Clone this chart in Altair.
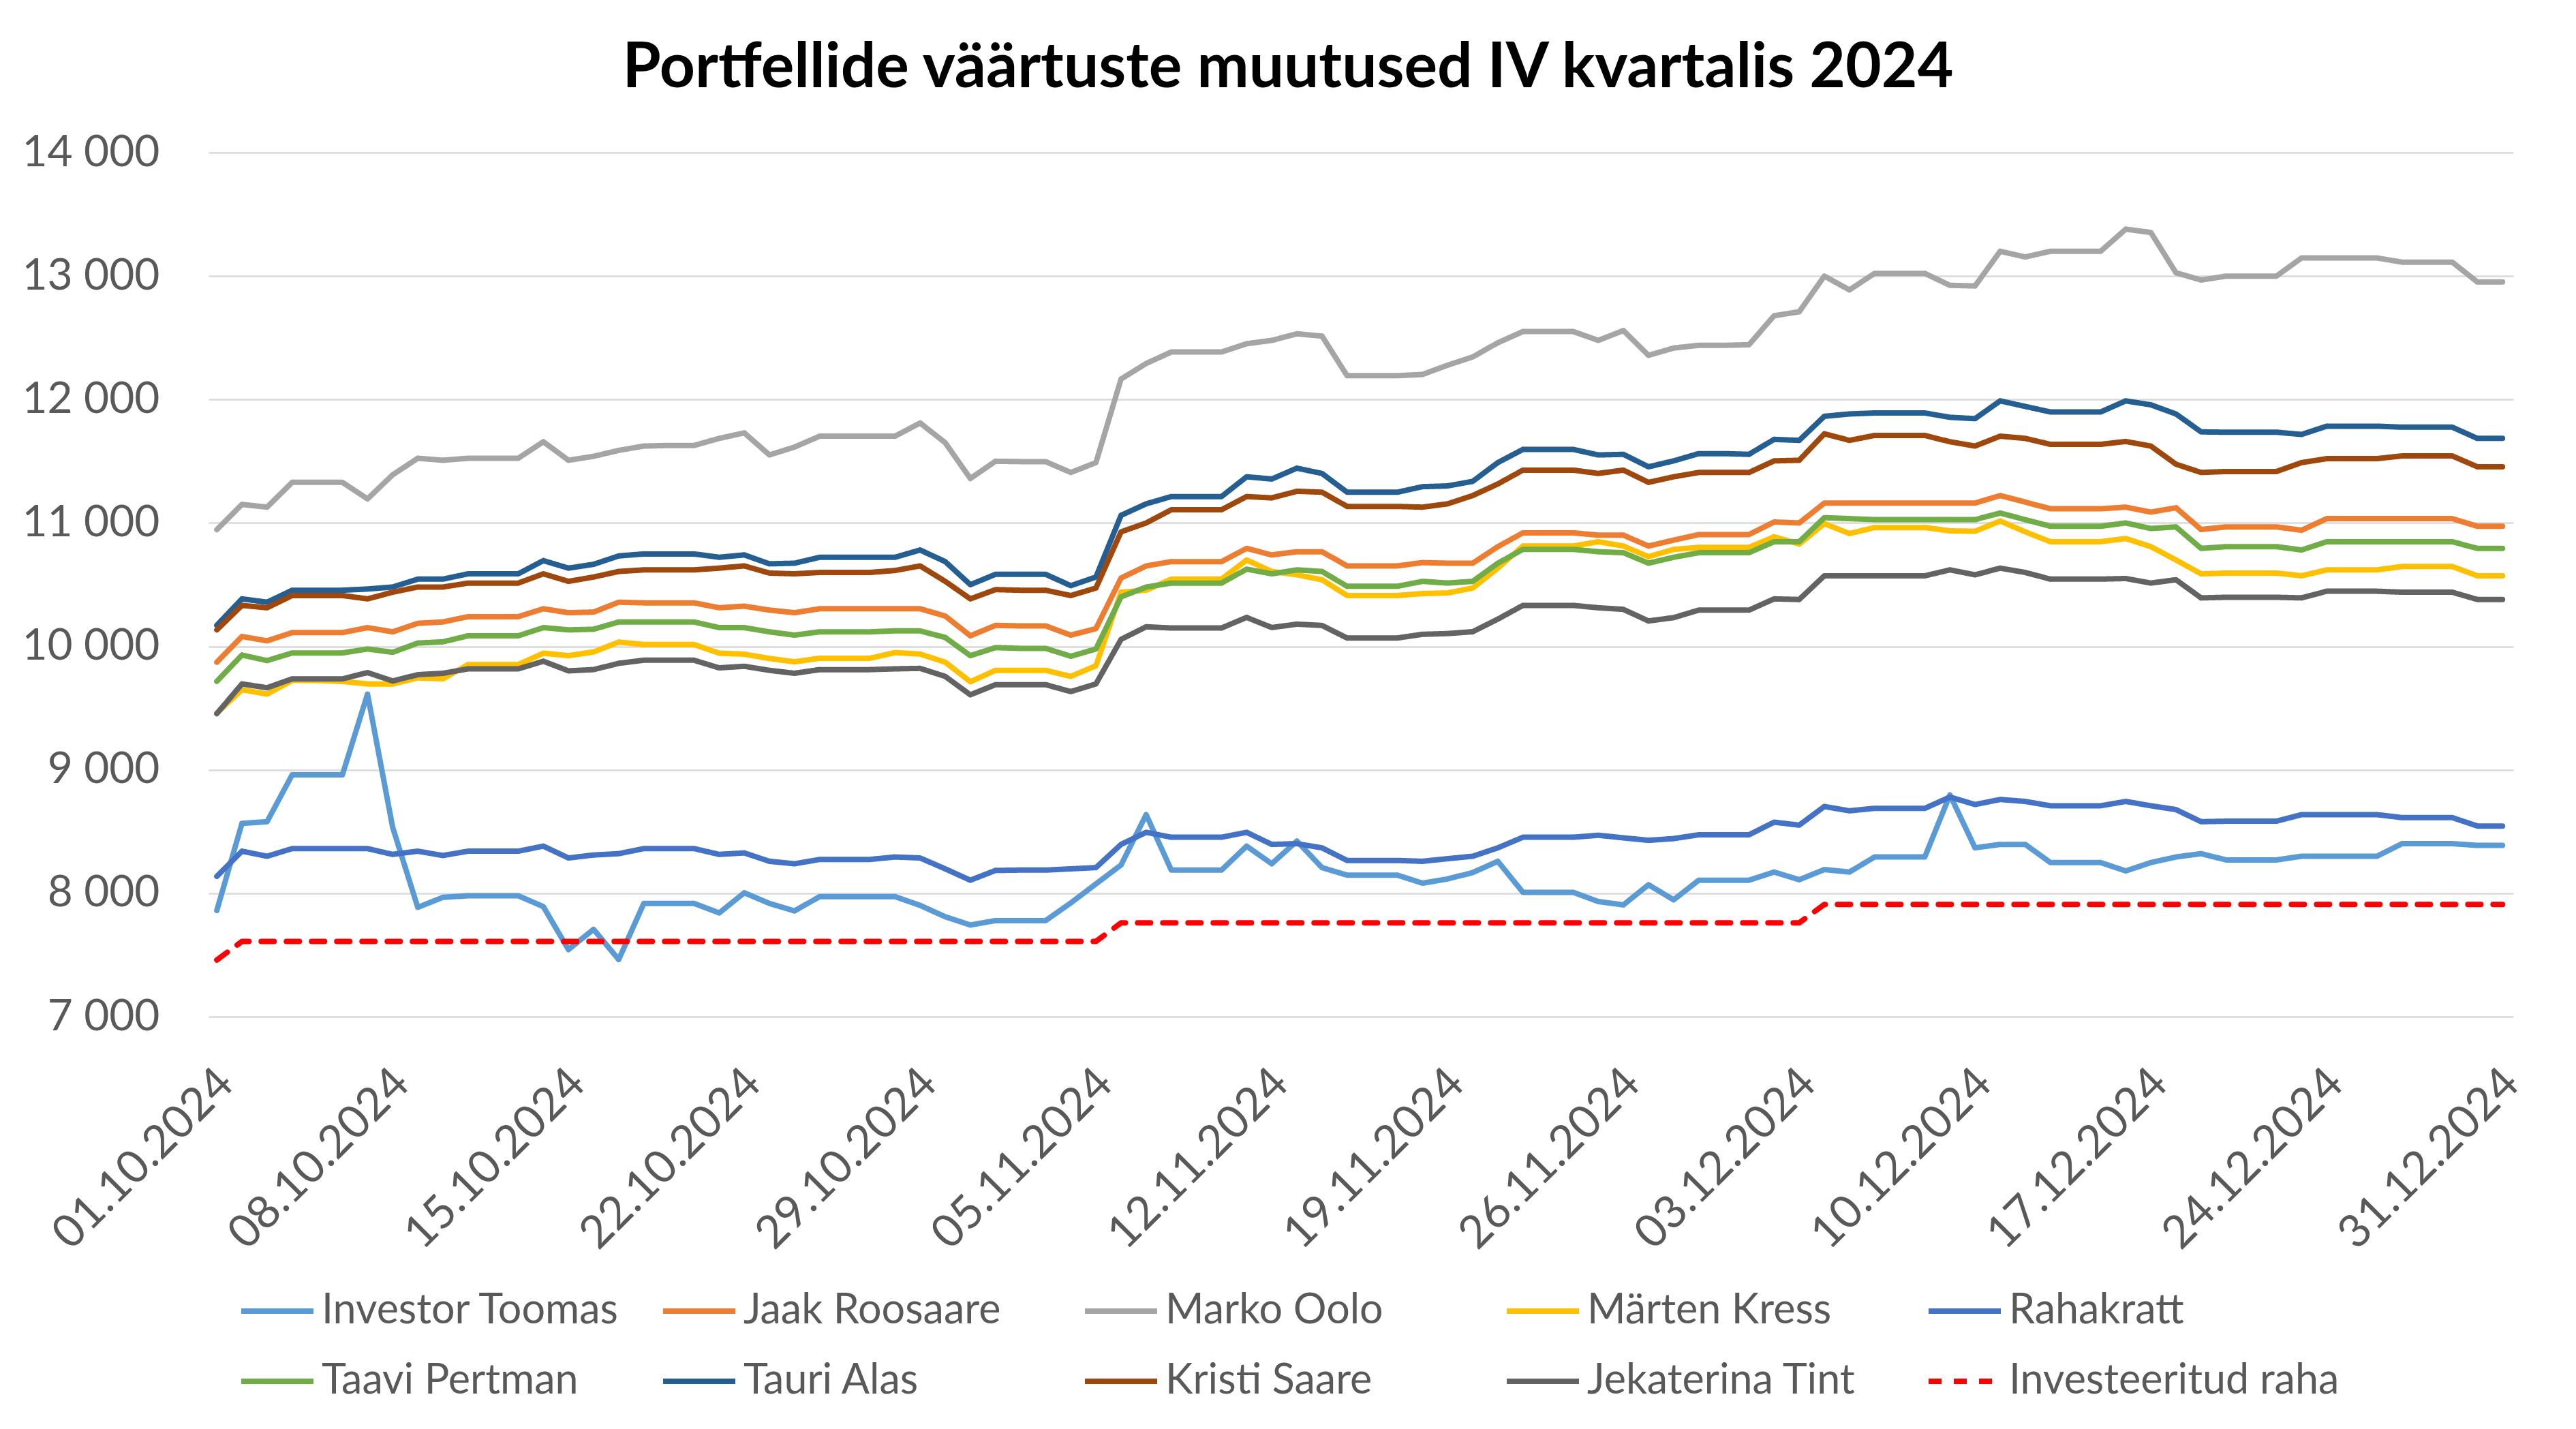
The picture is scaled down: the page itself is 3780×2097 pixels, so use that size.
import json
import altair as alt
import pandas as pd

# ---------------- data ----------------
series_names = ["Investor Toomas", "Jaak Roosaare", "Marko Oolo", "Märten Kress", "Rahakratt",
                "Taavi Pertman", "Tauri Alas", "Kristi Saare", "Jekaterina Tint", "Investeeritud raha"]
series_colors = ["#5B9BD5", "#ED7D31", "#A5A5A5", "#FFC000", "#4472C4",
                 "#70AD47", "#255E91", "#9E480E", "#636363", "#FF0000"]

tick_days = [0, 7, 14, 21, 28, 35, 42, 49, 56, 63, 70, 77, 84, 91]
tick_labels = ["01.10.2024", "08.10.2024", "15.10.2024", "22.10.2024", "29.10.2024", "05.11.2024",
               "12.11.2024", "19.11.2024", "26.11.2024", "03.12.2024", "10.12.2024", "17.12.2024",
               "24.12.2024", "31.12.2024"]

investor_toomas = [7861, 8566, 8580, 8960, 8960, 8960, 9614, 8535, 7886, 7967, 7980, 7980, 7980, 7892, 7544, 7708,
                   7463, 7918, 7918, 7918, 7841, 8004, 7918, 7857, 7973, 7973, 7973, 7973, 7902, 7810, 7743, 7779,
                   7779, 7779, 7922, 8076, 8229, 8637, 8188, 8188, 8188, 8382, 8239, 8423, 8208, 8147, 8147, 8147,
                   8082, 8116, 8168, 8259, 8008, 8008, 8008, 7933, 7906, 8069, 7947, 8106, 8106, 8106, 8172, 8110,
                   8192, 8172, 8294, 8294, 8294, 8797, 8368, 8396, 8396, 8249, 8249, 8249, 8181, 8249, 8294, 8321,
                   8270, 8270, 8270, 8300, 8300, 8300, 8300, 8402, 8402, 8402, 8388, 8388]
jaak_roosaare = [9872, 10080, 10045, 10112, 10112, 10112, 10152, 10118, 10187, 10198, 10241, 10241, 10241, 10305,
                 10273, 10278, 10358, 10353, 10353, 10353, 10313, 10326, 10294, 10273, 10305, 10305, 10305, 10305,
                 10305, 10246, 10086, 10170, 10166, 10166, 10091, 10144, 10554, 10652, 10687, 10687, 10687, 10794,
                 10741, 10767, 10767, 10652, 10652, 10652, 10679, 10674, 10674, 10808, 10920, 10920, 10920, 10901,
                 10901, 10813, 10861, 10906, 10906, 10906, 11008, 11000, 11161, 11161, 11161, 11161, 11161, 11161,
                 11161, 11222, 11169, 11115, 11115, 11115, 11128, 11088, 11123, 10947, 10968, 10968, 10968, 10941,
                 11035, 11035, 11035, 11035, 11035, 11035, 10973, 10973]
marko_oolo = [10946, 11150, 11128, 11329, 11329, 11329, 11195, 11390, 11524, 11508, 11524, 11524, 11524, 11658,
              11508, 11540, 11588, 11623, 11628, 11628, 11685, 11730, 11551, 11615, 11703, 11703, 11703, 11703,
              11810, 11650, 11360, 11500, 11497, 11497, 11409, 11489, 12166, 12292, 12385, 12385, 12385, 12452,
              12479, 12532, 12514, 12193, 12193, 12193, 12203, 12278, 12345, 12460, 12551, 12551, 12551, 12479,
              12559, 12358, 12417, 12439, 12439, 12444, 12679, 12711, 13000, 12888, 13022, 13022, 13022, 12925,
              12920, 13201, 13155, 13201, 13201, 13201, 13380, 13353, 13027, 12968, 13000, 13000, 13000, 13147,
              13147, 13147, 13147, 13113, 13113, 13113, 12952, 12952]
marten_kress = [9460, 9649, 9614, 9724, 9724, 9716, 9696, 9696, 9745, 9737, 9853, 9853, 9853, 9945, 9925, 9955,
                10035, 10015, 10015, 10015, 9945, 9937, 9902, 9875, 9904, 9904, 9904, 9950, 9938, 9872, 9714, 9806,
                9806, 9806, 9757, 9843, 10439, 10455, 10545, 10545, 10545, 10700, 10607, 10580, 10540, 10412, 10412,
                10412, 10428, 10433, 10473, 10634, 10813, 10813, 10813, 10848, 10813, 10727, 10786, 10802, 10802,
                10802, 10888, 10829, 10995, 10914, 10963, 10963, 10963, 10936, 10933, 11016, 10928, 10848, 10848,
                10848, 10874, 10808, 10700, 10588, 10594, 10594, 10594, 10572, 10620, 10620, 10620, 10647, 10647,
                10647, 10572, 10572]
rahakratt = [8137, 8341, 8300, 8362, 8362, 8362, 8362, 8315, 8341, 8306, 8341, 8341, 8341, 8382, 8286, 8310, 8321,
             8362, 8362, 8362, 8315, 8327, 8259, 8239, 8274, 8274, 8274, 8294, 8286, 8198, 8106, 8185, 8188, 8188,
             8198, 8208, 8396, 8494, 8454, 8454, 8454, 8494, 8396, 8402, 8368, 8266, 8266, 8266, 8259, 8280, 8300,
             8368, 8454, 8454, 8454, 8470, 8449, 8429, 8443, 8474, 8474, 8474, 8576, 8552, 8703, 8668, 8688, 8688,
             8688, 8780, 8719, 8760, 8744, 8709, 8709, 8709, 8744, 8709, 8678, 8580, 8584, 8584, 8584, 8637, 8637,
             8637, 8637, 8613, 8613, 8613, 8545, 8545]
taavi_pertman = [9717, 9930, 9885, 9947, 9947, 9947, 9979, 9952, 10027, 10037, 10086, 10086, 10086, 10152, 10134,
                 10139, 10198, 10198, 10198, 10198, 10152, 10152, 10118, 10091, 10118, 10118, 10118, 10126, 10126,
                 10072, 9925, 9990, 9984, 9984, 9920, 9979, 10401, 10481, 10513, 10513, 10513, 10626, 10588, 10620,
                 10607, 10487, 10487, 10487, 10527, 10513, 10527, 10674, 10786, 10786, 10786, 10767, 10759, 10674,
                 10722, 10759, 10759, 10759, 10848, 10848, 11043, 11035, 11027, 11027, 11027, 11027, 11027, 11080,
                 11027, 10973, 10973, 10973, 11000, 10955, 10968, 10794, 10808, 10808, 10808, 10781, 10848, 10848,
                 10848, 10848, 10848, 10848, 10794, 10794]
tauri_alas = [10171, 10385, 10358, 10455, 10455, 10455, 10465, 10481, 10545, 10545, 10588, 10588, 10588, 10695,
              10634, 10665, 10733, 10749, 10749, 10749, 10722, 10741, 10669, 10674, 10722, 10722, 10722, 10722,
              10781, 10687, 10500, 10584, 10584, 10584, 10492, 10562, 11062, 11155, 11214, 11214, 11214, 11374,
              11356, 11444, 11401, 11249, 11249, 11249, 11294, 11300, 11337, 11489, 11596, 11596, 11596, 11551,
              11556, 11455, 11503, 11562, 11562, 11556, 11677, 11669, 11864, 11883, 11891, 11891, 11891, 11856,
              11845, 11989, 11944, 11899, 11899, 11899, 11989, 11957, 11883, 11738, 11735, 11735, 11735, 11717,
              11784, 11784, 11784, 11776, 11776, 11776, 11685, 11685]
kristi_saare = [10134, 10332, 10313, 10412, 10412, 10412, 10385, 10439, 10481, 10481, 10513, 10513, 10513, 10588,
                10527, 10562, 10607, 10620, 10620, 10620, 10634, 10652, 10594, 10588, 10599, 10599, 10599, 10615,
                10652, 10527, 10385, 10460, 10455, 10455, 10412, 10473, 10928, 11000, 11107, 11107, 11107, 11214,
                11203, 11257, 11249, 11134, 11134, 11134, 11128, 11155, 11222, 11316, 11428, 11428, 11428, 11401,
                11428, 11329, 11374, 11409, 11409, 11409, 11503, 11508, 11722, 11669, 11709, 11709, 11709, 11658,
                11623, 11703, 11685, 11637, 11637, 11637, 11660, 11623, 11476, 11409, 11417, 11417, 11417, 11489,
                11521, 11521, 11521, 11543, 11543, 11543, 11455, 11455]
jekaterina_tint = [9455, 9696, 9665, 9737, 9737, 9737, 9788, 9720, 9771, 9782, 9818, 9818, 9818, 9880, 9802, 9812,
                   9863, 9888, 9888, 9888, 9826, 9839, 9806, 9782, 9812, 9812, 9812, 9818, 9822, 9757, 9608, 9690,
                   9690, 9690, 9634, 9696, 10057, 10159, 10149, 10149, 10149, 10235, 10153, 10180, 10170, 10068,
                   10068, 10068, 10098, 10104, 10119, 10221, 10332, 10332, 10332, 10313, 10300, 10206, 10233, 10294,
                   10294, 10294, 10385, 10380, 10572, 10572, 10572, 10572, 10572, 10620, 10580, 10634, 10599, 10545,
                   10545, 10545, 10550, 10513, 10540, 10393, 10398, 10398, 10398, 10393, 10447, 10447, 10447, 10439,
                   10439, 10439, 10380, 10380]
investeeritud_raha = [7460] + [7610] * 35 + [7760] * 28 + [7910] * 28

all_series = [investor_toomas, jaak_roosaare, marko_oolo, marten_kress, rahakratt,
              taavi_pertman, tauri_alas, kristi_saare, jekaterina_tint, investeeritud_raha]

rows = []
for k, (name, vals) in enumerate(zip(series_names, all_series)):
    for d, v in enumerate(vals):
        rows.append({"day": d, "value": v, "series": name, "ord": k})
df = pd.DataFrame(rows)

# ---------------- chart ----------------
FONT = "Lato"
label_expr_x = json.dumps(tick_labels) + "[round(datum.value / 7)]"

dash_range = [[1, 0]] * 9 + [[19, 18]]

legend = alt.Legend(
    title=None, orient="none", legendX=44, legendY=1643, direction="horizontal", columns=5,
    gridAlign="all", symbolType="stroke", symbolSize=11236, symbolStrokeWidth=8,
    labelFont=FONT, labelFontSize=61, labelColor="#595959", labelOffset=8,
    columnPadding=0, rowPadding=16, labelLimit=800,
)

chart = alt.Chart(df).mark_line(strokeWidth=8, strokeCap="round", strokeJoin="round").encode(
    x=alt.X("day:Q", scale=alt.Scale(domain=[-0.33, 91.43], nice=False, zero=False),
            axis=alt.Axis(values=tick_days, labelExpr=label_expr_x, title=None, grid=False,
                          domain=False, ticks=False, labelAngle=315, labelAlign="right",
                          labelBaseline="top", labelFont=FONT, labelFontSize=67,
                          labelColor="#595959", labelPadding=64, labelOffset=-10,
                          labelOverlap=False, labelBound=False, labelLimit=1000)),
    y=alt.Y("value:Q", scale=alt.Scale(domain=[7000, 14000], nice=False, zero=False),
            axis=alt.Axis(values=list(range(7000, 14001, 1000)),
                          labelExpr="replace(format(datum.value, ',d'), ',', ' ')",
                          title=None, grid=True, gridColor="#D9D9D9", gridWidth=2.5,
                          domain=False, ticks=False, labelFont=FONT, labelFontSize=64,
                          labelColor="#595959", labelPadding=72, labelLimit=1000)),
    color=alt.Color("series:N", scale=alt.Scale(domain=series_names, range=series_colors), legend=legend),
    strokeDash=alt.StrokeDash("series:N", scale=alt.Scale(domain=series_names, range=dash_range), legend=legend),
    order=alt.Order("ord:Q"),
).properties(
    width=3382, height=1268,
    padding={"left": 298, "top": 216, "right": 70, "bottom": 580},
    autosize=alt.AutoSizeParams(type="none"),
    title=alt.TitleParams("Portfellide väärtuste muutused IV kvartalis 2024", font=FONT, fontSize=91,
                          fontWeight="bold", color="#000000", anchor="middle", dx=-107, offset=45),
).configure_view(stroke=None)

chart.save("out.html", embed_options={"renderer": "svg", "actions": False})
